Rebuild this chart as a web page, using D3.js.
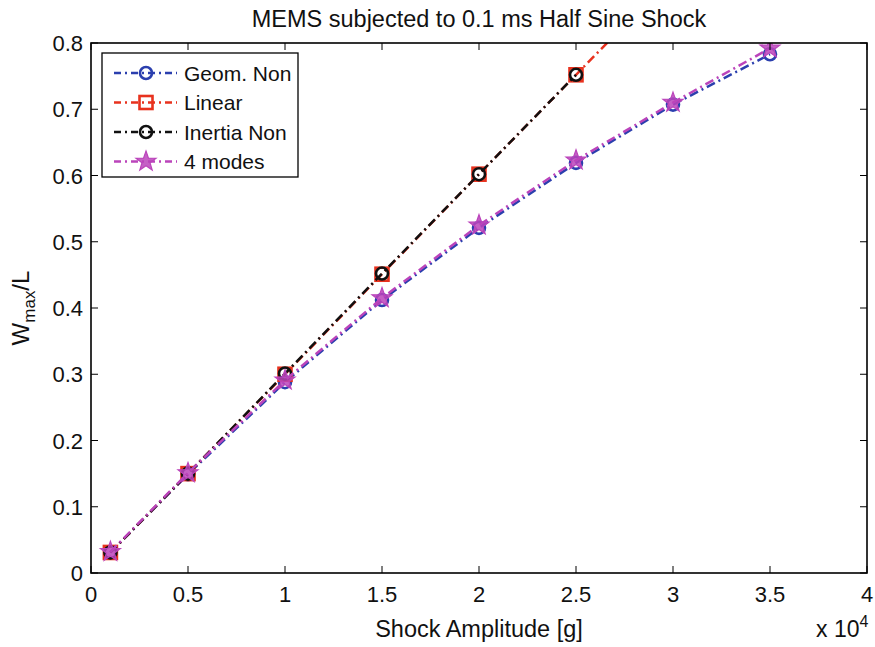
<!DOCTYPE html>
<html><head><meta charset="utf-8">
<script src="https://cdn.jsdelivr.net/npm/d3@7"></script>
<style>body{margin:0;background:#fff}text{font-family:"Liberation Sans",Arial,sans-serif;fill:#111}</style>
</head><body><svg id="c" width="875" height="647"></svg>
<script>
const xAll = [0.1, 0.5, 1, 1.5, 2, 2.5, 3, 3.5];
const geomNon = [0.031, 0.149, 0.288, 0.412, 0.521, 0.619, 0.707, 0.783];
const linear = [0.031, 0.150, 0.300, 0.451, 0.602, 0.752, 0.902, 1.052];
const inertiaX = [0.1, 0.5, 1, 1.5, 2, 2.5];
const inertiaNon = [0.031, 0.150, 0.301, 0.452, 0.602, 0.752];
const fourModes = [0.032, 0.151, 0.291, 0.415, 0.525, 0.623, 0.710, 0.792];
const xTicks = [0, 0.5, 1, 1.5, 2, 2.5, 3, 3.5, 4];
const yTicks = [0, 0.1, 0.2, 0.3, 0.4, 0.5, 0.6, 0.7, 0.8];
const seriesNames = ["Geom. Non", "Linear", "Inertia Non", "4 modes"];

const svg = d3.select("#c");
const L = 91, R = 867, T = 43, B = 573;
const x = d3.scaleLinear().domain([0, 4]).range([L, R]);
const y = d3.scaleLinear().domain([0, 0.8]).range([B, T]);

svg.append("defs").append("clipPath").attr("id", "clip")
  .append("rect").attr("x", L).attr("y", T).attr("width", R - L).attr("height", B - T);

const series = [
  {name: seriesNames[0], xs: xAll, ys: geomNon, color: "#2b3fae", marker: "circle"},
  {name: seriesNames[1], xs: xAll, ys: linear, color: "#e8321e", marker: "square"},
  {name: seriesNames[2], xs: inertiaX, ys: inertiaNon, color: "#111111", marker: "circle"},
  {name: seriesNames[3], xs: xAll, ys: fourModes, color: "#bb44bb", marker: "star"}
];
const dash = "9,4,2,4";
const line = d3.line().x(d => x(d[0])).y(d => y(d[1]));
const g = svg.append("g").attr("clip-path", "url(#clip)");

function drawMarker(sel, type, color, cx, cy) {
  if (type === "circle") {
    sel.append("circle").attr("cx", cx).attr("cy", cy).attr("r", 6)
      .attr("fill", "none").attr("stroke", color).attr("stroke-width", 2.6);
  } else if (type === "square") {
    sel.append("rect").attr("x", cx - 6.5).attr("y", cy - 6.5).attr("width", 13).attr("height", 13)
      .attr("fill", "none").attr("stroke", color).attr("stroke-width", 2.6);
  } else {
    const pts = [];
    for (let i = 0; i < 10; i++) {
      const r = i % 2 === 0 ? 10.5 : 4.2;
      const a = -Math.PI / 2 + i * Math.PI / 5;
      pts.push([cx + r * Math.cos(a), cy + r * Math.sin(a)]);
    }
    sel.append("path").attr("d", "M" + pts.map(p => p.join(",")).join("L") + "Z")
      .attr("fill", color).attr("stroke", color).attr("stroke-width", 1.2).attr("fill-opacity", 0.85);
  }
}

series.forEach(s => {
  const data = s.xs.map((v, i) => [v, s.ys[i]]);
  g.append("path").attr("d", line(data)).attr("fill", "none")
    .attr("stroke", s.color).attr("stroke-width", 2.5).attr("stroke-dasharray", dash);
  data.forEach(d => drawMarker(g, s.marker, s.color, x(d[0]), y(d[1])));
});

// axes box
const ax = svg.append("g");
ax.append("rect").attr("x", L).attr("y", T).attr("width", R - L).attr("height", B - T)
  .attr("fill", "none").attr("stroke", "#000").attr("stroke-width", 1.6);
const tk = 7;
xTicks.forEach(v => {
  ax.append("line").attr("x1", x(v)).attr("x2", x(v)).attr("y1", B).attr("y2", B - tk).attr("stroke", "#000");
  ax.append("line").attr("x1", x(v)).attr("x2", x(v)).attr("y1", T).attr("y2", T + tk).attr("stroke", "#000");
  ax.append("text").attr("x", x(v)).attr("y", B + 29).attr("text-anchor", "middle")
    .attr("font-size", 22).text(d3.format("")(v));
});
yTicks.forEach(v => {
  ax.append("line").attr("x1", L).attr("x2", L + tk).attr("y1", y(v)).attr("y2", y(v)).attr("stroke", "#000");
  ax.append("line").attr("x1", R).attr("x2", R - tk).attr("y1", y(v)).attr("y2", y(v)).attr("stroke", "#000");
  ax.append("text").attr("x", L - 8).attr("y", y(v) + 8).attr("text-anchor", "end")
    .attr("font-size", 22).text(d3.format("")(v));
});

svg.append("text").attr("x", 479).attr("y", 27).attr("text-anchor", "middle")
  .attr("font-size", 23.5).text("MEMS subjected to 0.1 ms Half Sine Shock");
svg.append("text").attr("x", 479).attr("y", 637).attr("text-anchor", "middle")
  .attr("font-size", 23.5).text("Shock Amplitude [g]");
const xe = svg.append("text").attr("x", 816).attr("y", 637).attr("font-size", 23);
xe.append("tspan").text("x 10");
xe.append("tspan").attr("dy", -10).attr("font-size", 16).text("4");

const yl = svg.append("text").attr("transform", "translate(29,308) rotate(-90)")
  .attr("text-anchor", "middle").attr("font-size", 24);
yl.append("tspan").text("W");
yl.append("tspan").attr("dy", 6).attr("font-size", 17).text("max");
yl.append("tspan").attr("dy", -6).text("/L");

// legend
const lg = svg.append("g");
lg.append("rect").attr("x", 102).attr("y", 53).attr("width", 196).attr("height", 124)
  .attr("fill", "#fff").attr("stroke", "#000").attr("stroke-width", 1.3);
series.forEach((s, i) => {
  const yy = 73 + i * 29.5;
  lg.append("line").attr("x1", 114).attr("x2", 177).attr("y1", yy).attr("y2", yy)
    .attr("stroke", s.color).attr("stroke-width", 2.5).attr("stroke-dasharray", "7,4,2,4");
  drawMarker(lg, s.marker, s.color, 146, yy);
  lg.append("text").attr("x", 184).attr("y", yy + 7.5).attr("font-size", 21).text(s.name);
});
</script></body></html>
